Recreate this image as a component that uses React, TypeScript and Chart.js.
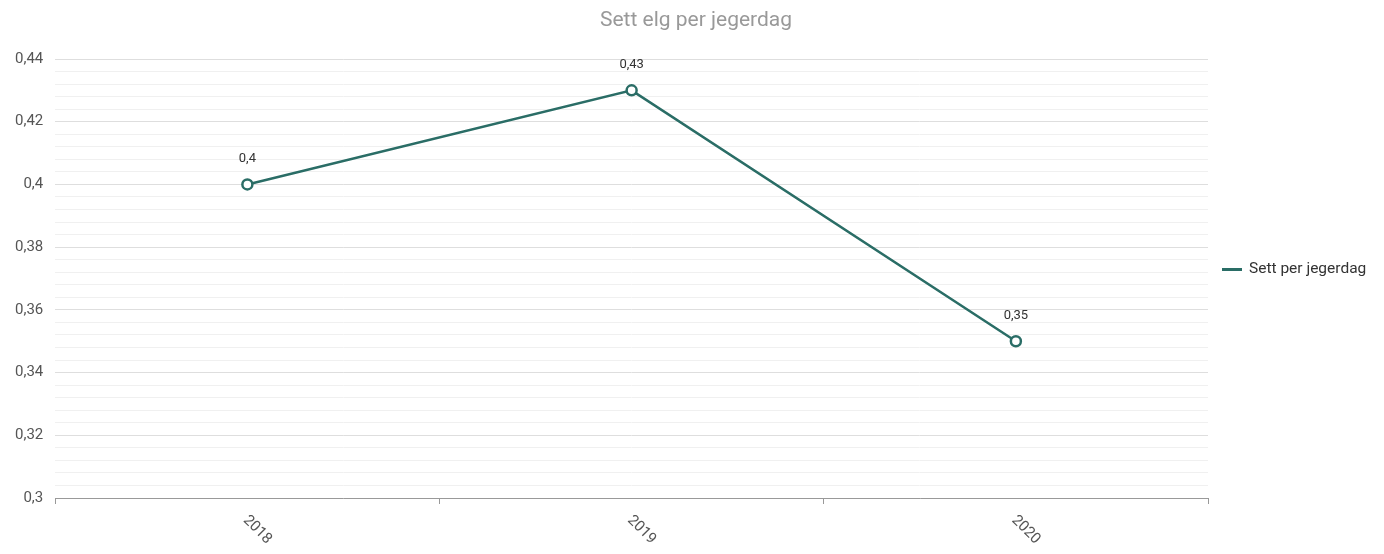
import React, { useEffect, useRef } from "react";
import { Chart, registerables } from "chart.js";

Chart.register(...registerables);

const TITLE = "Sett elg per jegerdag";
const SERIES_NAME = "Sett per jegerdag";
const YEARS = ["2018", "2019", "2020"];
const VALUES = [0.4, 0.43, 0.35];
const Y_MIN = 0.3;
const Y_MAX = 0.44;
const Y_MINOR_STEP = 0.004;
const Y_MAJOR_STEP = 0.02;

const LINE_COLOR = "#2a6d66";
const FONT = "Roboto, 'Noto Sans', Arial, sans-serif";

const fmt = (v: number) => String(Number(v.toFixed(4))).replace(".", ",");
const isMajor = (v: number) => {
  const r = v / Y_MAJOR_STEP;
  return Math.abs(r - Math.round(r)) < 1e-6;
};

const customPlugin = {
  id: "customLabels",
  afterDatasetsDraw(chart: any) {
    const { ctx } = chart;
    const meta = chart.getDatasetMeta(0);
    ctx.save();
    ctx.font = `13px ${FONT}`;
    ctx.fillStyle = "#333";
    ctx.textAlign = "center";
    ctx.textBaseline = "bottom";
    meta.data.forEach((pt: any, i: number) => {
      ctx.fillText(fmt(VALUES[i]), pt.x, pt.y - 19);
    });
    ctx.restore();
  },
  afterDraw(chart: any) {
    const { ctx, chartArea } = chart;
    const xs = chart.scales.x;
    ctx.save();
    // title
    ctx.font = `21px ${FONT}`;
    ctx.fillStyle = "#999";
    ctx.textAlign = "center";
    ctx.textBaseline = "middle";
    ctx.fillText(TITLE, chart.width / 2 + 4, 20.6);
    // legend
    const ly = 269.5;
    const lx = chartArea.right + 14;
    ctx.fillStyle = chart.data.datasets[0].borderColor;
    ctx.fillRect(lx, ly - 1.5, 20, 3);
    ctx.font = `15.5px ${FONT}`;
    ctx.fillStyle = "#333";
    ctx.textAlign = "left";
    ctx.fillText(chart.data.datasets[0].label, lx + 27, ly);
    // rotated x labels
    ctx.font = `15px ${FONT}`;
    ctx.fillStyle = "#555";
    ctx.textAlign = "left";
    ctx.textBaseline = "middle";
    YEARS.forEach((lab, i) => {
      const x = xs.getPixelForValue(i);
      const y = xs.top + 20;
      ctx.save();
      ctx.translate(x - 2, y);
      ctx.rotate(Math.PI / 4);
      ctx.fillText(lab, 0, 0);
      ctx.restore();
    });
    ctx.restore();
  },
};

export default function App() {
  const ref = useRef<HTMLCanvasElement | null>(null);
  useEffect(() => {
    document.body.style.margin = "0";
    const chart = new Chart(ref.current as HTMLCanvasElement, {
      type: "line",
      data: {
        labels: YEARS,
        datasets: [
          {
            label: SERIES_NAME,
            data: VALUES,
            borderColor: LINE_COLOR,
            backgroundColor: LINE_COLOR,
            borderWidth: 2.5,
            pointRadius: 5,
            pointHoverRadius: 5,
            pointBorderWidth: 2.5,
            pointBackgroundColor: "#ffffff",
            pointBorderColor: LINE_COLOR,
            tension: 0,
          },
        ],
      },
      options: {
        animation: false,
        responsive: true,
        maintainAspectRatio: false,
        layout: { padding: { left: 3, right: 176, top: 59, bottom: 14 } },
        plugins: {
          title: { display: false },
          legend: { display: false },
          tooltip: { enabled: false },
        },
        scales: {
          x: {
            type: "category",
            offset: true,
            afterFit: (scale: any) => {
              scale.height = 42;
            },
            grid: {
              offset: true,
              drawOnChartArea: false,
              drawTicks: true,
              tickLength: 6,
              color: "#999",
            },
            border: { display: true, color: "#999", width: 1 },
            ticks: { display: false },
          },
          y: {
            min: Y_MIN,
            max: Y_MAX,
            border: { display: false },
            grid: {
              drawTicks: false,
              color: (c: any) => (c.tick && isMajor(c.tick.value) ? "#dedede" : "#f0f0f0"),
            },
            ticks: {
              stepSize: Y_MINOR_STEP,
              autoSkip: false,
              padding: 12,
              color: "#555",
              font: { family: FONT, size: 15 },
              callback: (v: any) => (isMajor(Number(v)) ? fmt(Number(v)) : ""),
            },
          },
        },
      },
      plugins: [customPlugin],
    } as any);
    return () => chart.destroy();
  }, []);
  return (
    <div style={{ width: 1384, height: 554, position: "relative" }}>
      <canvas ref={ref} />
    </div>
  );
}
